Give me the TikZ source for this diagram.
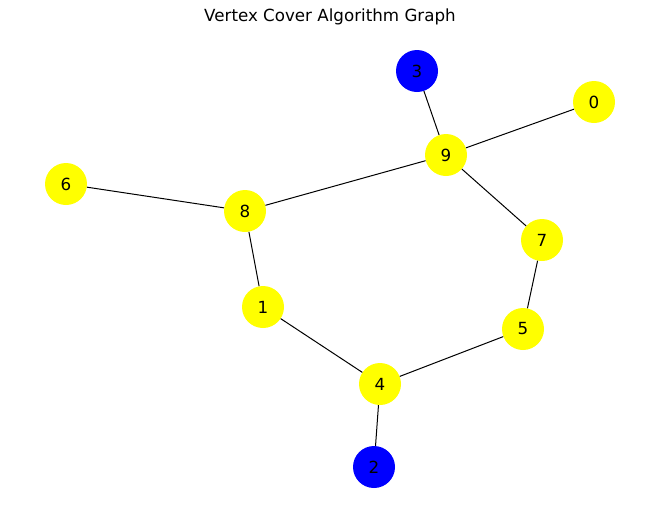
\documentclass[tikz,border=0pt]{standalone}
\usepackage{fontspec}
\setmainfont{DejaVu Sans}
\definecolor{coveryellow}{RGB}{255,255,0}
\definecolor{coverblue}{RGB}{0,0,255}
\tikzset{
	vertex/.style={circle, minimum size=42pt, inner sep=0pt, font=\fontsize{16.7}{20}\selectfont},
	incover/.style={vertex, fill=coveryellow},
	outcover/.style={vertex, fill=coverblue},
	edge/.style={black, line width=1pt}
}
\begin{document}
\begin{tikzpicture}[x=1pt, y=-1pt]
		\useasboundingbox (0,0) rectangle (660,520);
		\node[font=\fontsize{16.7}{20}\selectfont] (title) at (330,17) {Vertex Cover Algorithm Graph};
		\node[outcover] (v3) at (417,71) {3};
		\node[incover] (v0) at (594,102) {0};
		\node[incover] (v9) at (446,155) {9};
		\node[incover] (v6) at (66,184) {6};
		\node[incover] (v8) at (245,211) {8};
		\node[incover] (v7) at (542,240) {7};
		\node[incover] (v1) at (263,307) {1};
		\node[incover] (v5) at (523,329) {5};
		\node[incover] (v4) at (380,384) {4};
		\node[outcover] (v2) at (374,467) {2};
		\draw [edge] (v3)--(v9);
		\draw [edge] (v9)--(v0);
		\draw [edge] (v9)--(v8);
		\draw [edge] (v9)--(v7);
		\draw [edge] (v6)--(v8);
		\draw [edge] (v8)--(v1);
		\draw [edge] (v1)--(v4);
		\draw [edge] (v7)--(v5);
		\draw [edge] (v5)--(v4);
		\draw [edge] (v4)--(v2);
	\end{tikzpicture}
\end{document}
